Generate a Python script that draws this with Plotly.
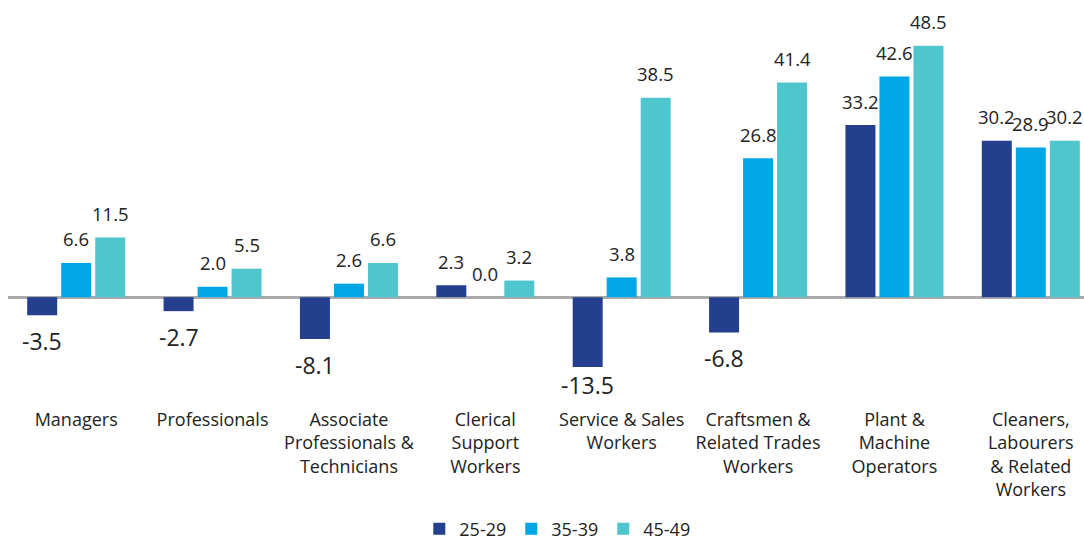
import plotly.graph_objects as go

categories = [
    "Managers",
    "Professionals",
    "Associate<br>Professionals &<br>Technicians",
    "Clerical<br>Support<br>Workers",
    "Service & Sales<br>Workers",
    "Craftsmen &<br>Related Trades<br>Workers",
    "Plant &<br>Machine<br>Operators",
    "Cleaners,<br>Labourers<br>& Related<br>Workers",
]
series_names = ["25-29", "35-39", "45-49"]
age_25_29 = [-3.5, -2.7, -8.1, 2.3, -13.5, -6.8, 33.2, 30.2]
age_35_39 = [6.6, 2.0, 2.6, 0.0, 3.8, 26.8, 42.6, 28.9]
age_45_49 = [11.5, 5.5, 6.6, 3.2, 38.5, 41.4, 48.5, 30.2]
series_values = [age_25_29, age_35_39, age_45_49]
colors = ["#243f8e", "#00a6e6", "#4fc5cd"]

FONT = "Open Sans, Segoe UI, DejaVu Sans, sans-serif"
TXT = "#222222"

fig = go.Figure()
for name, vals, col in zip(series_names, series_values, colors):
    fig.add_trace(go.Bar(x=categories, y=vals, name=name, marker_color=col,
                         marker_line_width=0, hoverinfo="skip"))

slot = 34
annotations = []
for i, vals in enumerate(series_values):
    for cat, v in zip(categories, vals):
        if v >= 0:
            annotations.append(dict(x=cat, y=v, text=f"{v:.1f}", showarrow=False,
                                    xshift=(i - 1) * slot, yshift=24, yanchor="middle",
                                    font=dict(size=18.5, color=TXT, family=FONT)))
        else:
            annotations.append(dict(x=cat, y=v, text=f"{v:.1f}", showarrow=False,
                                    xshift=(i - 1) * slot,
                                    yshift=-18 if v < -12 else -26, yanchor="middle",
                                    font=dict(size=23, color=TXT, family=FONT)))

fig.update_layout(
    width=1084, height=540,
    margin=dict(l=8, r=0, t=8, b=133, autoexpand=False),
    paper_bgcolor="white", plot_bgcolor="white",
    barmode="group", bargap=0.252, bargroupgap=0.118,
    font=dict(family=FONT, color=TXT, size=18),
    showlegend=True,
    legend=dict(orientation="h", x=0.5105, xanchor="center", y=-0.306, yanchor="middle",
                font=dict(size=18, color=TXT, family=FONT), traceorder="normal"),
    annotations=annotations,
)
fig.update_xaxes(range=[-0.5, 7.39], showgrid=False, showline=False, ticks="",
                 automargin=False,
                 tickfont=dict(size=18, color=TXT, family=FONT))
fig.update_yaxes(range=[-21.2, 55.8], showgrid=False, showticklabels=False, ticks="",
                 automargin=False,
                 zeroline=True, zerolinecolor="#aaaaaa", zerolinewidth=2.5)

fig.write_html(
    "out.html",
    config={"displayModeBar": False},
    post_script="document.body.style.margin='0';document.body.style.overflow='hidden';",
)
